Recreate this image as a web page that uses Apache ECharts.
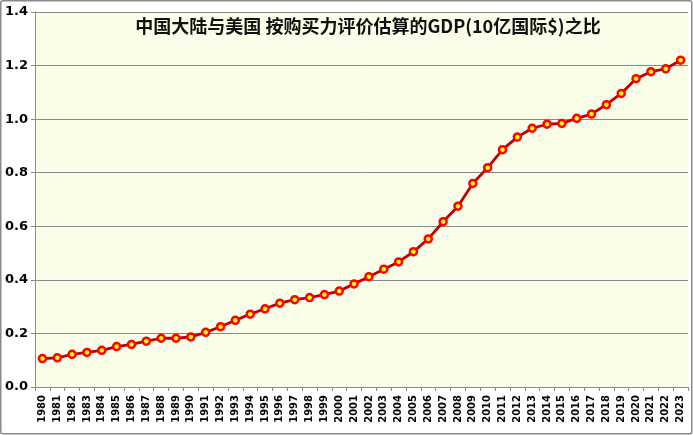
<!DOCTYPE html>
<html>
<head>
<meta charset="utf-8">
<script src="https://cdn.jsdelivr.net/npm/echarts@6/dist/echarts.min.js"></script>
<style>
html,body{margin:0;padding:0;background:#fff;}
#chart{width:693px;height:435px;}
</style>
</head>
<body>
<div id="chart"></div>
<script>
const titleText = '中国大陆与美国 按购买力评价估算的GDP(10亿国际$)之比';
const years = ['1980','1981','1982','1983','1984','1985','1986','1987','1988','1989',
  '1990','1991','1992','1993','1994','1995','1996','1997','1998','1999',
  '2000','2001','2002','2003','2004','2005','2006','2007','2008','2009',
  '2010','2011','2012','2013','2014','2015','2016','2017','2018','2019',
  '2020','2021','2022','2023'];
const ratio = [0.106,0.109,0.122,0.129,0.137,0.151,0.159,0.171,0.182,0.182,
  0.187,0.204,0.225,0.249,0.272,0.292,0.313,0.326,0.334,0.345,
  0.358,0.385,0.412,0.440,0.467,0.505,0.553,0.617,0.675,0.760,
  0.819,0.886,0.933,0.966,0.981,0.984,1.003,1.019,1.054,1.096,
  1.151,1.177,1.188,1.220];
const yTicks = {min:0, max:1.4, interval:0.2};

const chart = echarts.init(document.getElementById('chart'));
chart.setOption({
  backgroundColor:'#ffffff',
  animation:false,
  title:{
    text:titleText,
    left:368, top:17, textAlign:'center', padding:0,
    textStyle:{fontFamily:'"Noto Sans CJK SC"', fontSize:18, fontWeight:'bold', color:'#111'}
  },
  graphic:[{
    type:'rect', silent:true, z:100,
    shape:{x:0.75,y:0.75,width:691,height:433, r:2},
    style:{fill:null, stroke:'#8a8a8a', lineWidth:1.5}
  }],
  grid:{left:35, right:5, top:12, bottom:48, show:true, backgroundColor:'#FAFDE8', borderWidth:0},
  xAxis:{
    type:'category', data:years, boundaryGap:true,
    axisLine:{lineStyle:{color:'#8a8a8a', width:1}},
    axisTick:{show:true, length:4, alignWithLabel:false, interval:0, lineStyle:{color:'#8a8a8a'}},
    axisLabel:{interval:0, rotate:90, margin:8, color:'#000', fontFamily:'"DejaVu Sans"', fontWeight:'bold', fontSize:10}
  },
  yAxis:{
    type:'value', min:yTicks.min, max:yTicks.max, interval:yTicks.interval,
    axisLine:{show:true, lineStyle:{color:'#8a8a8a', width:1}},
    axisTick:{show:true, length:4, inside:false, lineStyle:{color:'#8a8a8a'}},
    splitLine:{lineStyle:{color:'#888888', width:1}},
    axisLabel:{margin:7, color:'#000', fontFamily:'"DejaVu Sans"', fontWeight:'bold', fontSize:13,
      formatter:v=>v.toFixed(1)}
  },
  series:[{
    type:'line', data:ratio,
    symbol:'circle', symbolSize:7,
    lineStyle:{color:'#C00000', width:2.8},
    itemStyle:{color:'#FFFF00', borderColor:'#FF0000', borderWidth:2.5},
    z:5
  }]
});
</script>
</body>
</html>
